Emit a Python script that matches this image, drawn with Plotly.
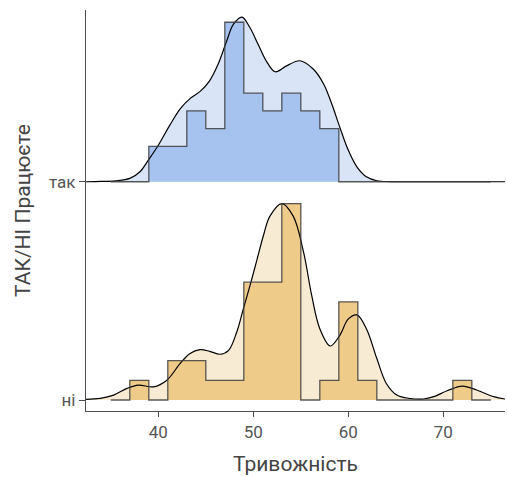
import plotly.graph_objects as go

# ---------------- data ----------------
groups = ["ні", "так"]
bin_edges = list(range(35, 77, 2))  # 35..75
counts_ni = [0, 1, 0, 2, 2, 1, 1, 6, 6, 10, 0, 1, 5, 1, 0, 0, 0, 0, 1, 0]
counts_tak = [0, 0, 2, 2, 4, 3, 9, 5, 4, 5, 4, 3, 0, 0, 0, 0, 0, 0, 0, 0]

# density curves (relative to the peak of "ні")
dens_x_tak = [32.4, 34.0, 35.5, 37.0, 38.07, 38.95, 40.0, 41.2, 42.3, 43.3, 44.4, 45.4, 46.3,
              47.2, 47.9, 48.8, 49.65, 50.5, 51.4, 52.3, 53.5, 54.9, 56.3, 57.4, 58.25,
              59.1, 60.0, 60.9, 61.9, 63.0, 64.5, 66.0, 76.5]
dens_y_tak = [0.0, 0.0015, 0.005, 0.017, 0.051, 0.110, 0.186, 0.287, 0.371, 0.422, 0.460, 0.514,
              0.599, 0.717, 0.801, 0.838, 0.784, 0.700, 0.612, 0.560, 0.590, 0.616, 0.574,
              0.498, 0.397, 0.278, 0.160, 0.076, 0.025, 0.005, 0.001, 0.0, 0.0]
dens_x_ni = [32.4, 33.9, 35.3, 36.7, 37.9, 39.5, 40.9, 42.3, 43.3, 44.4, 45.4, 46.5, 47.4, 48.25,
             48.95, 49.65, 50.4, 51.05, 51.75, 53.0, 54.2, 55.3, 56.15, 57.0, 58.1, 59.1,
             60.0, 60.9, 61.9, 63.0, 64.0, 65.1, 66.5, 67.9, 69.0, 70.4, 72.0, 73.5, 75.3, 76.5]
dens_y_ni = [0.0035, 0.0086, 0.025, 0.059, 0.076, 0.067, 0.101, 0.186, 0.236, 0.256, 0.248,
             0.233, 0.253, 0.345, 0.464, 0.582, 0.717, 0.835, 0.936, 1.0, 0.936, 0.750,
             0.531, 0.363, 0.275, 0.329, 0.413, 0.433, 0.363, 0.211, 0.084, 0.025, 0.0076,
             0.005, 0.017, 0.047, 0.071, 0.051, 0.017, 0.005]

x_ticks = [40, 50, 60, 70]
x_title = "Тривожність"
y_title = "ТАК/НІ Працюєте"

# ---------------- styling ----------------
SCALE = 0.9
X_RANGE = [32.39, 76.49]
hist_fill = {"так": "#a6c3f0", "ні": "#efcb89"}
dens_fill = {"так": "#d9e5f7", "ні": "#f8ebd4"}
outline = "rgba(60,60,60,0.85)"

binw = 2
dens_hist_ni = [c / (sum(counts_ni) * binw) for c in counts_ni]
dens_hist_tak = [c / (sum(counts_tak) * binw) for c in counts_tak]
hmax = max(max(dens_hist_ni), max(dens_hist_tak))

series = {
    "ні": (0, dens_hist_ni, dens_x_ni, dens_y_ni),
    "так": (1, dens_hist_tak, dens_x_tak, dens_y_tak),
}

fig = go.Figure()
for g in ["так", "ні"]:
    base, hd, dx, dy = series[g]
    # density fill
    fig.add_trace(go.Scatter(x=[dx[0], dx[-1]], y=[base, base], mode="lines",
                             line=dict(width=0), hoverinfo="skip", showlegend=False))
    fig.add_trace(go.Scatter(x=dx, y=[base + SCALE * v for v in dy], mode="lines",
                             line=dict(width=0, shape="spline", smoothing=1.0),
                             fill="tonexty", fillcolor=dens_fill[g],
                             hoverinfo="skip", showlegend=False))
    # histogram (step)
    hy = [base + SCALE * v / hmax for v in hd]
    hy = hy + [hy[-1]]
    fig.add_trace(go.Scatter(x=[bin_edges[0], bin_edges[-1]], y=[base, base], mode="lines",
                             line=dict(width=0), hoverinfo="skip", showlegend=False))
    fig.add_trace(go.Scatter(x=bin_edges, y=hy, mode="lines",
                             line=dict(width=0, shape="hv"),
                             fill="tonexty", fillcolor=hist_fill[g],
                             hoverinfo="skip", showlegend=False))
    # density line
    fig.add_trace(go.Scatter(x=dx, y=[base + SCALE * v for v in dy], mode="lines",
                             line=dict(width=1.2, color="black", shape="spline", smoothing=1.0),
                             hoverinfo="skip", showlegend=False))
    # histogram outline
    fig.add_trace(go.Scatter(x=bin_edges, y=hy, mode="lines",
                             line=dict(width=1.3, color=outline, shape="hv"),
                             hoverinfo="skip", showlegend=False))

fig.update_layout(
    width=507, height=477,
    margin=dict(l=86, r=2, t=10, b=66),
    plot_bgcolor="white", paper_bgcolor="white",
    font=dict(family="Roboto, Arial, sans-serif", color="#555555", size=17),
    showlegend=False,
)
fig.update_xaxes(
    range=X_RANGE, tickvals=x_ticks, ticktext=[str(t) for t in x_ticks],
    showgrid=False, zeroline=False,
    showline=True, linecolor="#4d4d4d", linewidth=1.2,
    ticks="outside", ticklen=5, tickcolor="#4d4d4d", tickwidth=1.1,
    tickfont=dict(size=17, color="#555555"),
    title=dict(text=x_title, font=dict(size=21, color="#444444"), standoff=15),
)
fig.update_yaxes(
    range=[-0.0504, 1.787], tickvals=[0, 1], ticktext=groups,
    showgrid=False, zeroline=False,
    showline=True, linecolor="#4d4d4d", linewidth=1.2,
    ticks="outside", ticklen=6, tickcolor="#4d4d4d", tickwidth=1.1,
    tickfont=dict(size=17, color="#555555"),
    title=dict(text=y_title, font=dict(size=21, color="#444444"), standoff=12),
)

fig.write_html("out.html")
